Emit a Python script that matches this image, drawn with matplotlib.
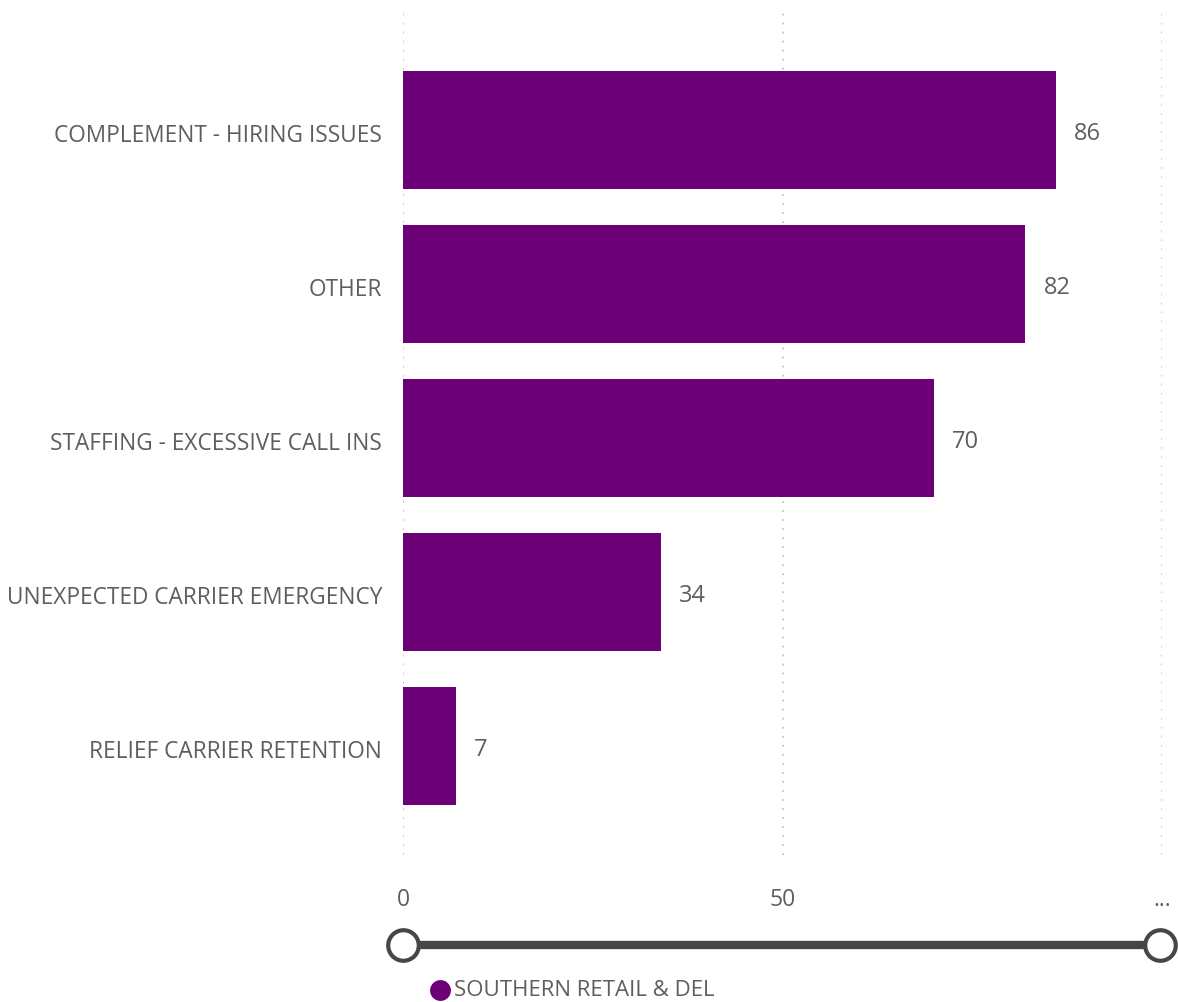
import matplotlib
matplotlib.use("Agg")
import matplotlib.pyplot as plt
import matplotlib.transforms as mtransforms
from matplotlib.lines import Line2D

categories = ["COMPLEMENT - HIRING ISSUES", "OTHER", "STAFFING - EXCESSIVE CALL INS",
              "UNEXPECTED CARRIER EMERGENCY", "RELIEF CARRIER RETENTION"]
values = [86, 82, 70, 34, 7]
tick_vals = [0, 50, 100]
tick_labels = ["0", "50", "..."]
series_name = "SOUTHERN RETAIL & DEL"

purple = "#6B0077"
txt = "#605E5C"
plt.rcParams['font.family'] = ['Open Sans', 'DejaVu Sans']

fig = plt.figure(figsize=(11.78, 10.02), dpi=100)
ax = fig.add_axes([403 / 1178, 1 - 855 / 1002, 759 / 1178, 847 / 1002])

y = list(range(len(categories)))
ax.barh(y, values, height=0.766, color=purple)
for yi, v in zip(y, values):
    ax.annotate(str(v), (v, yi), xytext=(13, -3), textcoords="offset points",
                va="center", ha="left", fontsize=17, color=txt)

ax.set_xlim(0, 100)
ax.set_ylim(4.71, -0.79)
ax.set_yticks(y)
ax.set_yticklabels(categories, fontsize=16.3, color=txt)
ax.tick_params(axis="y", length=0, pad=15)
shift = mtransforms.ScaledTranslation(0, -3 / 100, fig.dpi_scale_trans)
for lbl in ax.get_yticklabels():
    lbl.set_transform(lbl.get_transform() + shift)
ax.set_xticks(tick_vals)
ax.set_xticklabels(tick_labels, fontsize=16.5, color=txt)
ax.tick_params(axis="x", length=0, pad=24)
for xv in tick_vals:
    ax.axvline(xv, color="#C8C6C4", linestyle=(0, (1, 4)), linewidth=1.3, zorder=0)
for s in ax.spines.values():
    s.set_visible(False)

# slider below the axis
sy = 1 - 945 / 1002
fig.add_artist(Line2D([403 / 1178, 1160 / 1178], [sy, sy],
                      color="#484644", linewidth=6, solid_capstyle="butt"))
fig.add_artist(Line2D([403 / 1178, 1160 / 1178], [sy, sy], linestyle="none",
                      marker="o", markersize=22, markerfacecolor="white",
                      markeredgecolor="#484644", markeredgewidth=3))

# legend
ly = 1 - 990 / 1002
fig.add_artist(Line2D([440 / 1178], [ly], linestyle="none", marker="o", markersize=15,
                      markerfacecolor=purple, markeredgecolor="none"))
fig.text(454 / 1178, ly, series_name, fontsize=16, color=txt, va="center", ha="left")

fig.savefig("out.png", dpi=100)
